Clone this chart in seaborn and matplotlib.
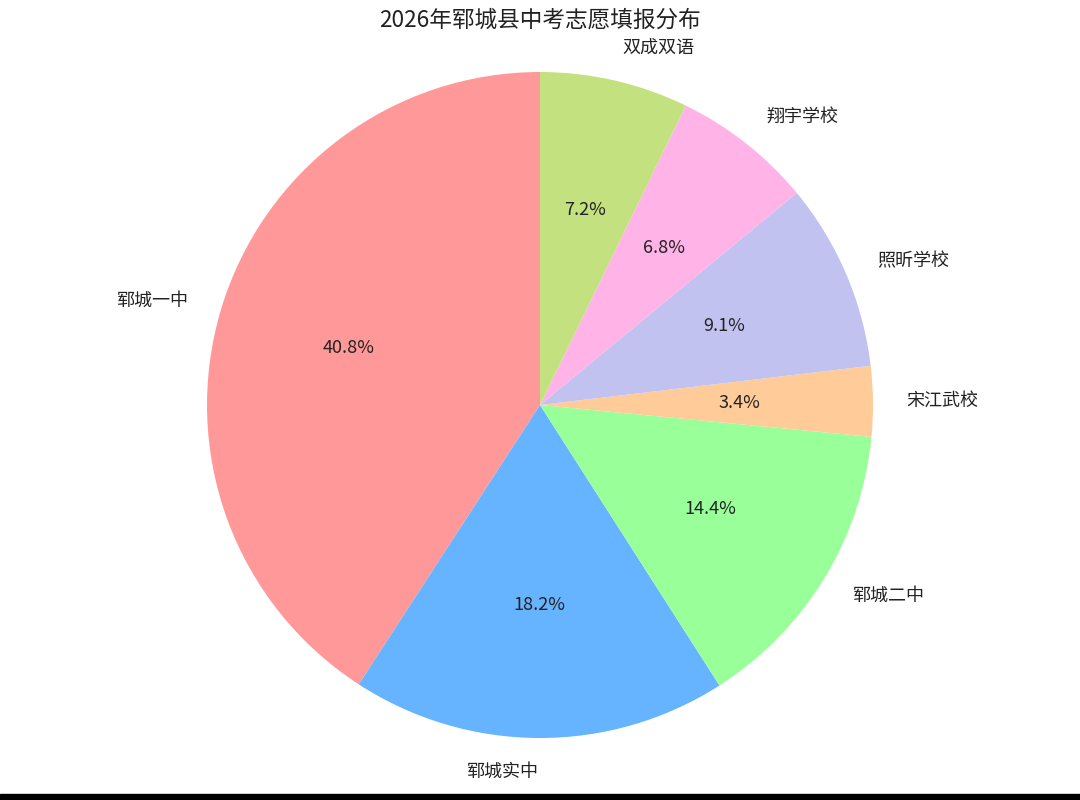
import matplotlib
matplotlib.use("Agg")
import matplotlib.pyplot as plt
import seaborn as sns

sns.set_theme(style="white")
plt.rcParams['font.family'] = ['Noto Sans CJK SC', 'DejaVu Sans']

schools = ["郓城一中", "郓城实中", "郓城二中", "宋江武校", "照昕学校", "翔宇学校", "双成双语"]
shares = [40.8, 18.2, 14.4, 3.4, 9.1, 6.8, 7.2]
colors = ["#ff9999", "#66b3ff", "#99ff99", "#ffcc99", "#c2c2f0", "#ffb3e6", "#c4e17f"]

fig = plt.figure(figsize=(10.8, 8), dpi=100)
ax = fig.add_axes([0, 0, 1, 1])

ax.pie(
    shares,
    labels=schools,
    colors=colors,
    autopct="%1.1f%%",
    startangle=90,
    labeldistance=1.1,
    pctdistance=0.6,
    wedgeprops={"linewidth": 0, "edgecolor": "none"},
    textprops={"fontsize": 13, "color": "#222222"},
)

# 1 data unit = 333 px, pie centre at (540, 405) from top-left
r = 333.0
ax.set_aspect("auto")
ax.set_xlim(-540 / r, 540 / r)
ax.set_ylim(-395 / r, 405 / r)
ax.axis("off")

fig.text(0.5, 1 - 20 / 800, "2026年郓城县中考志愿填报分布",
         ha="center", va="center", fontsize=16.3, color="#222222")

# dark strip along the bottom edge
fig.patches.append(plt.Rectangle((0, 0), 1, 6 / 800, transform=fig.transFigure,
                                 color="black", zorder=10))

fig.savefig("out.png", dpi=100)
